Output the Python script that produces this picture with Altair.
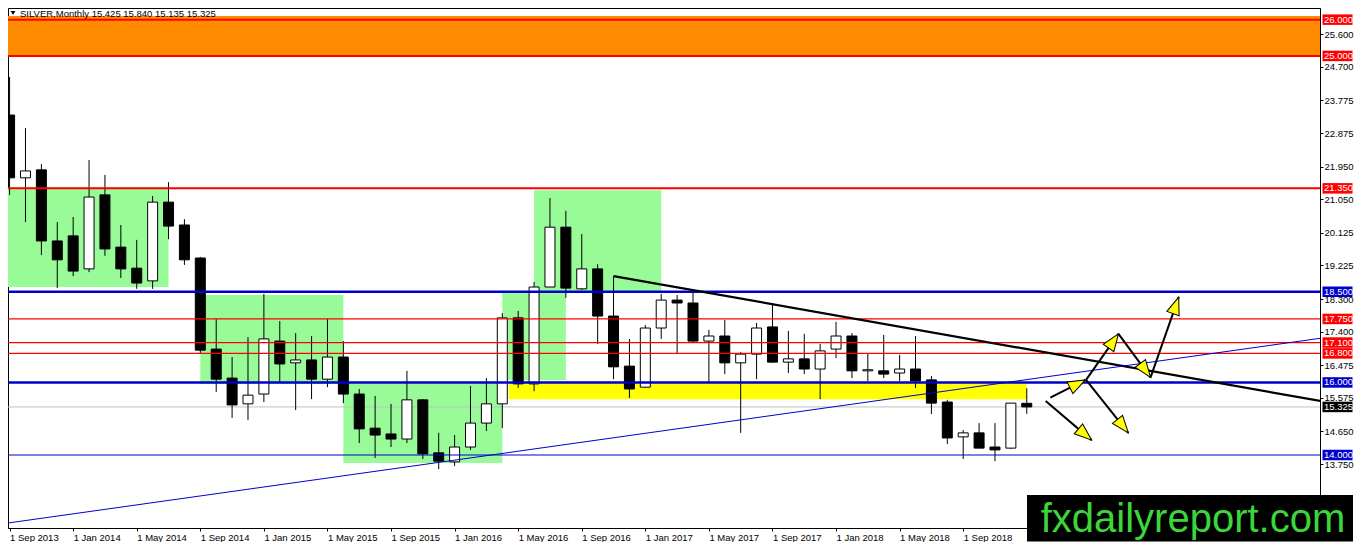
import json
import math
import altair as alt
import pandas as pd

# ---------------- data ----------------
tick_labels = ["1 Sep 2013", "1 Jan 2014", "1 May 2014", "1 Sep 2014", "1 Jan 2015",
               "1 May 2015", "1 Sep 2015", "1 Jan 2016", "1 May 2016", "1 Sep 2016",
               "1 Jan 2017", "1 May 2017", "1 Sep 2017", "1 Jan 2018", "1 May 2018",
               "1 Sep 2018"]

opens = [23.37, 21.64, 21.86, 19.90, 20.04, 19.13, 21.17, 19.73, 19.15, 18.80,
         20.97, 20.34, 19.43, 16.92, 16.12, 15.41, 15.68, 17.14, 16.54, 16.62,
         16.09, 16.70, 15.68, 14.74, 14.58, 14.44, 15.52, 14.06, 13.81, 14.22,
         14.88, 15.41, 17.78, 15.96, 18.63, 20.28, 18.58, 19.13, 17.83, 16.45,
         15.87, 17.50, 18.27, 18.19, 17.14, 17.28, 16.54, 16.78, 17.53, 16.56,
         16.65, 16.37, 16.92, 17.28, 16.32, 16.32, 16.26, 16.37, 16.07, 15.46,
         14.50, 14.61, 14.22, 14.19, 15.425]
highs = [24.42, 23.01, 22.02, 20.42, 20.56, 22.13, 21.72, 20.34, 19.93, 21.14,
         21.52, 20.50, 19.46, 17.75, 16.70, 17.25, 18.44, 17.69, 17.36, 17.28,
         17.75, 17.14, 15.82, 15.63, 15.41, 16.32, 15.54, 14.61, 14.55, 15.90,
         16.12, 17.91, 17.97, 18.77, 21.08, 20.73, 20.09, 19.26, 18.93, 17.20,
         17.58, 18.44, 18.41, 18.55, 17.45, 17.72, 16.84, 17.64, 18.19, 17.42,
         17.34, 17.06, 17.67, 17.36, 16.81, 17.31, 16.76, 17.28, 16.18, 15.52,
         14.69, 14.88, 14.88, 15.43, 15.840]
lows = [21.17, 20.42, 19.51, 18.60, 18.93, 19.04, 19.49, 18.88, 18.58, 18.58,
        19.95, 19.24, 16.81, 15.74, 15.02, 14.96, 15.46, 16.01, 15.24, 15.54,
        15.87, 15.43, 14.33, 13.92, 14.22, 14.33, 13.89, 13.61, 13.70, 14.14,
        14.66, 14.74, 15.85, 15.76, 18.63, 18.33, 18.55, 17.06, 16.09, 15.57,
        15.87, 17.20, 16.78, 17.09, 16.01, 16.23, 14.61, 16.09, 16.54, 16.26,
        16.23, 15.54, 16.67, 16.12, 16.04, 16.12, 16.04, 15.85, 15.13, 14.30,
        13.89, 14.19, 13.83, 14.17, 15.135]
closes = [21.64, 21.83, 19.90, 19.38, 19.07, 21.11, 19.68, 19.13, 18.74, 20.97,
          20.31, 19.38, 16.89, 16.09, 15.38, 15.65, 17.20, 16.51, 16.62, 16.09,
          16.70, 15.68, 14.72, 14.55, 14.44, 15.52, 14.03, 13.83, 14.22, 14.88,
          15.41, 17.78, 15.96, 18.63, 20.28, 18.60, 19.13, 17.83, 16.43, 15.82,
          17.50, 18.27, 18.19, 17.14, 17.28, 16.54, 16.78, 17.50, 16.56, 16.65,
          16.37, 16.87, 17.28, 16.32, 16.35, 16.23, 16.37, 16.04, 15.43, 14.47,
          14.61, 14.19, 14.14, 15.43, 15.325]

red_thick_levels = [26.0, 25.0, 21.35]
red_thin_levels = [17.75, 17.10, 16.80]
blue_thick_levels = [18.5, 16.0]
blue_thin_levels = [14.0]

y_tick_values = [25.6, 24.7, 23.775, 22.875, 21.95, 21.05, 20.125, 19.225, 18.3,
                 17.4, 16.475, 15.575, 14.65, 13.75]

# green zones (bar index / price)
zone_x1 = [-1, 12, 21, 31, 33]
zone_x2 = [10, 21, 31, 35, 41]
zone_lo = [18.63, 15.96, 13.78, 16.07, 18.49]
zone_hi = [21.38, 18.41, 15.98, 18.49, 21.30]
# yellow zone
yellow_x = [31.4, 64.0]
yellow_p = [15.54, 16.0]
# orange zone
orange_x = [-1, 83]
orange_p = [25.0, 26.1]

# trend lines
trend_x1 = [38, -1]
trend_p1 = [18.93, 12.07]
trend_x2 = [83, 83]
trend_p2 = [15.45, 17.25]

# arrows
arrow_x1 = [65.48, 67.73, 69.77, 71.79, 65.19, 67.73]
arrow_p1 = [15.58, 16.07, 17.34, 16.14, 15.49, 16.07]
arrow_x2 = [67.69, 69.77, 71.79, 73.56, 68.08, 70.39]
arrow_p2 = [16.07, 17.34, 16.14, 18.35, 14.41, 14.61]

# ---------------- layout / style ----------------
W, H = 1312, 520
X0, X1 = -0.1, 82.45
Y0, Y1 = 11.988, 26.321
FONT = "Liberation Sans"
RED = "#FF0000"
BLUE = "#0000CD"

xs = alt.Scale(domain=[X0, X1], nice=False, zero=False, padding=0)
ys = alt.Scale(domain=[Y0, Y1], nice=False, zero=False, padding=0)

x_axis = alt.Axis(values=list(range(0, 61, 4)),
                  labelExpr=json.dumps(tick_labels) + "[round(datum.value/4)]",
                  labelAlign="left", labelBaseline="top", labelFont=FONT, labelFontSize=9.5,
                  labelColor="black", labelPadding=1, tickSize=3, tickColor="black",
                  domainColor="black", grid=False, title=None, labelFlush=False,
                  labelOverlap=False)
y_axis = alt.Axis(orient="right", values=y_tick_values, format=".3f", labelFont=FONT,
                  labelFontSize=9.5, labelColor="black", labelPadding=1, tickSize=3,
                  tickColor="black", domainColor="black", grid=False, title=None,
                  labelOverlap=False, labelFlush=False)

n = len(opens)
candles = pd.DataFrame({"i": list(range(n)), "open": opens, "high": highs,
                        "low": lows, "close": closes})

layers = []

# orange band (carries the axes)
orange_df = pd.DataFrame({"x1": [orange_x[0]], "x2": [orange_x[1]],
                          "y1": [orange_p[0]], "y2": [orange_p[1]]})
layers.append(alt.Chart(orange_df).mark_rect(color="#FF8C00", clip=True).encode(
    x=alt.X("x1:Q", scale=xs, axis=x_axis), x2="x2:Q",
    y=alt.Y("y1:Q", scale=ys, axis=y_axis), y2="y2:Q"))

# green zones
zones = pd.DataFrame({"x1": zone_x1, "x2": zone_x2, "y1": zone_lo, "y2": zone_hi})
layers.append(alt.Chart(zones).mark_rect(color="#98FB98", clip=True).encode(
    x=alt.X("x1:Q", scale=xs, axis=x_axis), x2="x2:Q",
    y=alt.Y("y1:Q", scale=ys, axis=y_axis), y2="y2:Q"))

# yellow zone
yellow_df = pd.DataFrame({"x1": [yellow_x[0]], "x2": [yellow_x[1]],
                          "y1": [yellow_p[0]], "y2": [yellow_p[1]]})
layers.append(alt.Chart(yellow_df).mark_rect(color="#FFFF00", clip=True).encode(
    x=alt.X("x1:Q", scale=xs, axis=x_axis), x2="x2:Q",
    y=alt.Y("y1:Q", scale=ys, axis=y_axis), y2="y2:Q"))

# bid line
bid_df = pd.DataFrame({"p": [closes[-1]]})
layers.append(alt.Chart(bid_df).mark_rule(color="#C0C0C0", strokeWidth=1, clip=True).encode(
    y=alt.Y("p:Q", scale=ys, axis=y_axis)))

# candles
layers.append(alt.Chart(candles).mark_rule(color="black", strokeWidth=1, clip=True).encode(
    x=alt.X("i:Q", scale=xs, axis=x_axis),
    y=alt.Y("low:Q", scale=ys, axis=y_axis), y2="high:Q"))
layers.append(alt.Chart(candles).mark_bar(size=10, stroke="black", strokeWidth=1,
                                          clip=True).encode(
    x=alt.X("i:Q", scale=xs, axis=x_axis),
    y=alt.Y("open:Q", scale=ys, axis=y_axis), y2="close:Q",
    fill=alt.condition("datum.close > datum.open", alt.value("white"), alt.value("black"))))


def hlines(vals, color, width):
    return alt.Chart(pd.DataFrame({"p": vals})).mark_rule(
        color=color, strokeWidth=width, clip=True).encode(
        y=alt.Y("p:Q", scale=ys, axis=y_axis))


layers.append(hlines(red_thin_levels, RED, 1.2))
layers.append(hlines(blue_thin_levels, BLUE, 1.2))
layers.append(hlines(red_thick_levels, RED, 2))
layers.append(hlines(blue_thick_levels, BLUE, 2.6))

# trend lines
trend_df = pd.DataFrame({"x": trend_x1, "y": trend_p1, "x2": trend_x2, "y2": trend_p2,
                         "c": ["black", BLUE], "w": [2.2, 1.0]})
layers.append(alt.Chart(trend_df).mark_rule(clip=True).encode(
    x=alt.X("x:Q", scale=xs, axis=x_axis), x2="x2:Q",
    y=alt.Y("y:Q", scale=ys, axis=y_axis), y2="y2:Q",
    color=alt.Color("c:N", scale=None),
    strokeWidth=alt.StrokeWidth("w:Q", scale=None)))

# arrows
px_x = W / (X1 - X0)
px_y = H / (Y1 - Y0)
angles = []
for a, b, c, d in zip(arrow_x1, arrow_p1, arrow_x2, arrow_p2):
    dx = (c - a) * px_x
    dy = -(d - b) * px_y
    angles.append(math.degrees(math.atan2(dx, -dy)) % 360)
arrows = pd.DataFrame({"x": arrow_x1, "y": arrow_p1, "x2": arrow_x2, "y2": arrow_p2,
                       "ang": angles})
layers.append(alt.Chart(arrows).mark_rule(color="black", strokeWidth=2, clip=True).encode(
    x=alt.X("x:Q", scale=xs, axis=x_axis), x2="x2:Q",
    y=alt.Y("y:Q", scale=ys, axis=y_axis), y2="y2:Q"))
layers.append(alt.Chart(arrows).mark_point(shape="M0,0L0.75,2L-0.75,2Z", filled=True,
                                           fill="#FFFF00", stroke="black", strokeWidth=1,
                                           size=300, opacity=1, clip=True).encode(
    x=alt.X("x2:Q", scale=xs, axis=x_axis),
    y=alt.Y("y2:Q", scale=ys, axis=y_axis),
    angle=alt.Angle("ang:Q", scale=None)))

# right frame edge over the orange band
layers.append(alt.Chart(orange_df).mark_rule(color="black", strokeWidth=1).encode(
    x=alt.value(W + 0.5), y=alt.Y("y1:Q", scale=ys, axis=y_axis), y2="y2:Q"))

# price-level labels on the axis
lab_p = red_thick_levels + red_thin_levels + blue_thick_levels + blue_thin_levels + [closes[-1]]
lab_c = ([RED] * len(red_thick_levels) + [RED] * len(red_thin_levels)
         + [BLUE] * len(blue_thick_levels) + [BLUE] * len(blue_thin_levels) + ["black"])
labels = pd.DataFrame({"p": lab_p, "c": lab_c, "t": [f"{v:.3f}" for v in lab_p]})
layers.append(alt.Chart(labels).mark_point(shape="M-1,-0.35L1,-0.35L1,0.35L-1,0.35Z",
                                           filled=True, size=900, opacity=1,
                                           strokeWidth=0).encode(
    x=alt.value(W + 17.5), y=alt.Y("p:Q", scale=ys, axis=y_axis),
    fill=alt.Fill("c:N", scale=None)))
layers.append(alt.Chart(labels).mark_text(align="left", baseline="middle", font=FONT,
                                          fontSize=9.5, color="white").encode(
    x=alt.value(W + 4), y=alt.Y("p:Q", scale=ys, axis=y_axis), text="t:N"))

# title
title_df = pd.DataFrame({"t": [f"SILVER,Monthly  {opens[-1]:.3f} {highs[-1]:.3f} "
                               f"{lows[-1]:.3f} {closes[-1]:.3f}"]})
layers.append(alt.Chart(title_df).mark_point(shape="triangle-down", filled=True,
                                             color="black", size=22, opacity=1,
                                             clip=True).encode(
    x=alt.value(5), y=alt.value(5)))
layers.append(alt.Chart(title_df).mark_text(align="left", baseline="top", font=FONT,
                                            fontSize=9.5, color="black", clip=True).encode(
    x=alt.value(12), y=alt.value(0.5), text="t:N"))

# watermark
wm_df = pd.DataFrame({"t": ["fxdailyreport.com"]})
layers.append(alt.Chart(wm_df).mark_rect(color="black").encode(
    x=alt.value(1019), x2=alt.value(1345), y=alt.value(487), y2=alt.value(533.5)))
layers.append(alt.Chart(wm_df).mark_text(align="center", baseline="alphabetic", font=FONT,
                                         fontSize=40, color="#3CD63C").encode(
    x=alt.value(1185), y=alt.value(524), text="t:N"))

chart = alt.layer(*layers).properties(
    width=W, height=H, padding=0, background="white"
).configure_view(stroke="black", strokeWidth=1)

chart.save("out.html", embed_options={"renderer": "svg", "actions": False})
